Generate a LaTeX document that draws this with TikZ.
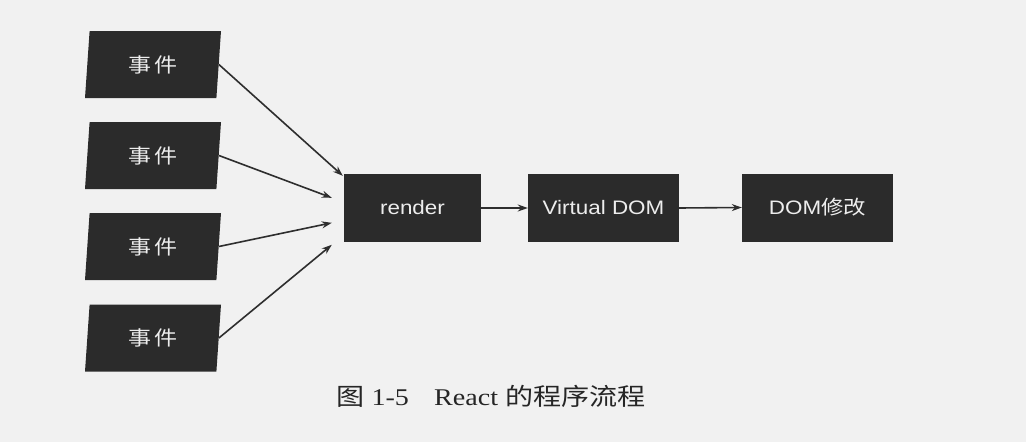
\documentclass[tikz,border=0pt]{standalone}
\usepackage{fontspec}
\usepackage{graphicx}
\setmainfont{Liberation Serif}
\newfontfamily\cjk{Noto Sans CJK SC}
\newfontfamily\lsans{Liberation Sans}
\usetikzlibrary{shapes.geometric,arrows.meta,calc}
\definecolor{boxfill}{HTML}{2B2B2B}
\definecolor{pagebg}{HTML}{F1F1F1}
\definecolor{linecol}{HTML}{2E2E2E}
\definecolor{boxtext}{HTML}{EDEDED}
\newcommand{\wide}[1]{\scalebox{1.15}[1]{#1}}
\tikzset{
  evbox/.style={trapezium, trapezium left angle=76, trapezium right angle=104,
    trapezium stretches body=true, fill=boxfill, draw=none, inner sep=0pt,
    minimum width=136pt, minimum height=67pt, text=boxtext,
    font=\cjk\fontsize{20pt}{24pt}\selectfont},
  stepbox/.style={rectangle, fill=boxfill, draw=none, inner sep=0pt,
    minimum height=68pt, text=boxtext, font=\lsans\fontsize{19.5pt}{24pt}\selectfont},
  conn/.style={draw=linecol, line width=1.6pt, -{Stealth[length=10pt,width=7pt]}}
}
\begin{document}
\begin{tikzpicture}[x=1pt,y=-1pt]
\fill[pagebg] (0,0) rectangle (1026,442);
\useasboundingbox (0,0) rectangle (1026,442);
\node[evbox] (e1) at (153,64.5) {\wide{事\,件}};
\node[evbox] (e2) at (153,155.5) {\wide{事\,件}};
\node[evbox] (e3) at (153,246.5) {\wide{事\,件}};
\node[evbox] (e4) at (153,338) {\wide{事\,件}};
\node[stepbox, minimum width=137pt] (render) at (412.5,208) {\wide{render}};
\node[stepbox, minimum width=151pt] (vdom) at (603.5,208) {\wide{Virtual DOM}};
\node[stepbox, minimum width=151pt] (dom) at (817.5,207.5) {\wide{DOM{\cjk 修改}}};
\coordinate (t1) at ($(render.north west)+(-1,2)$);
\coordinate (t2) at ($(render.north west)+(-12,24)$);
\coordinate (t3) at ($(render.north west)+(-12,49)$);
\coordinate (t4) at ($(render.north west)+(-12,71)$);
\draw[conn] (e1.east) -- (t1);
\draw[conn] (e2.east) -- (t2);
\draw[conn] (e3.east) -- (t3);
\draw[conn] (e4.east) -- (t4);
\draw[conn] (render.east) -- (vdom.west);
\draw[conn] (vdom.east) -- (dom.west);
\node[font=\fontsize{24pt}{28pt}\selectfont, text=black!85] (cap) at (491,396)
  {\scalebox{1.17}[1]{{\cjk 图} 1-5\hspace{0.9em}React {\cjk 的程序流程}}};
\end{tikzpicture}
\end{document}
